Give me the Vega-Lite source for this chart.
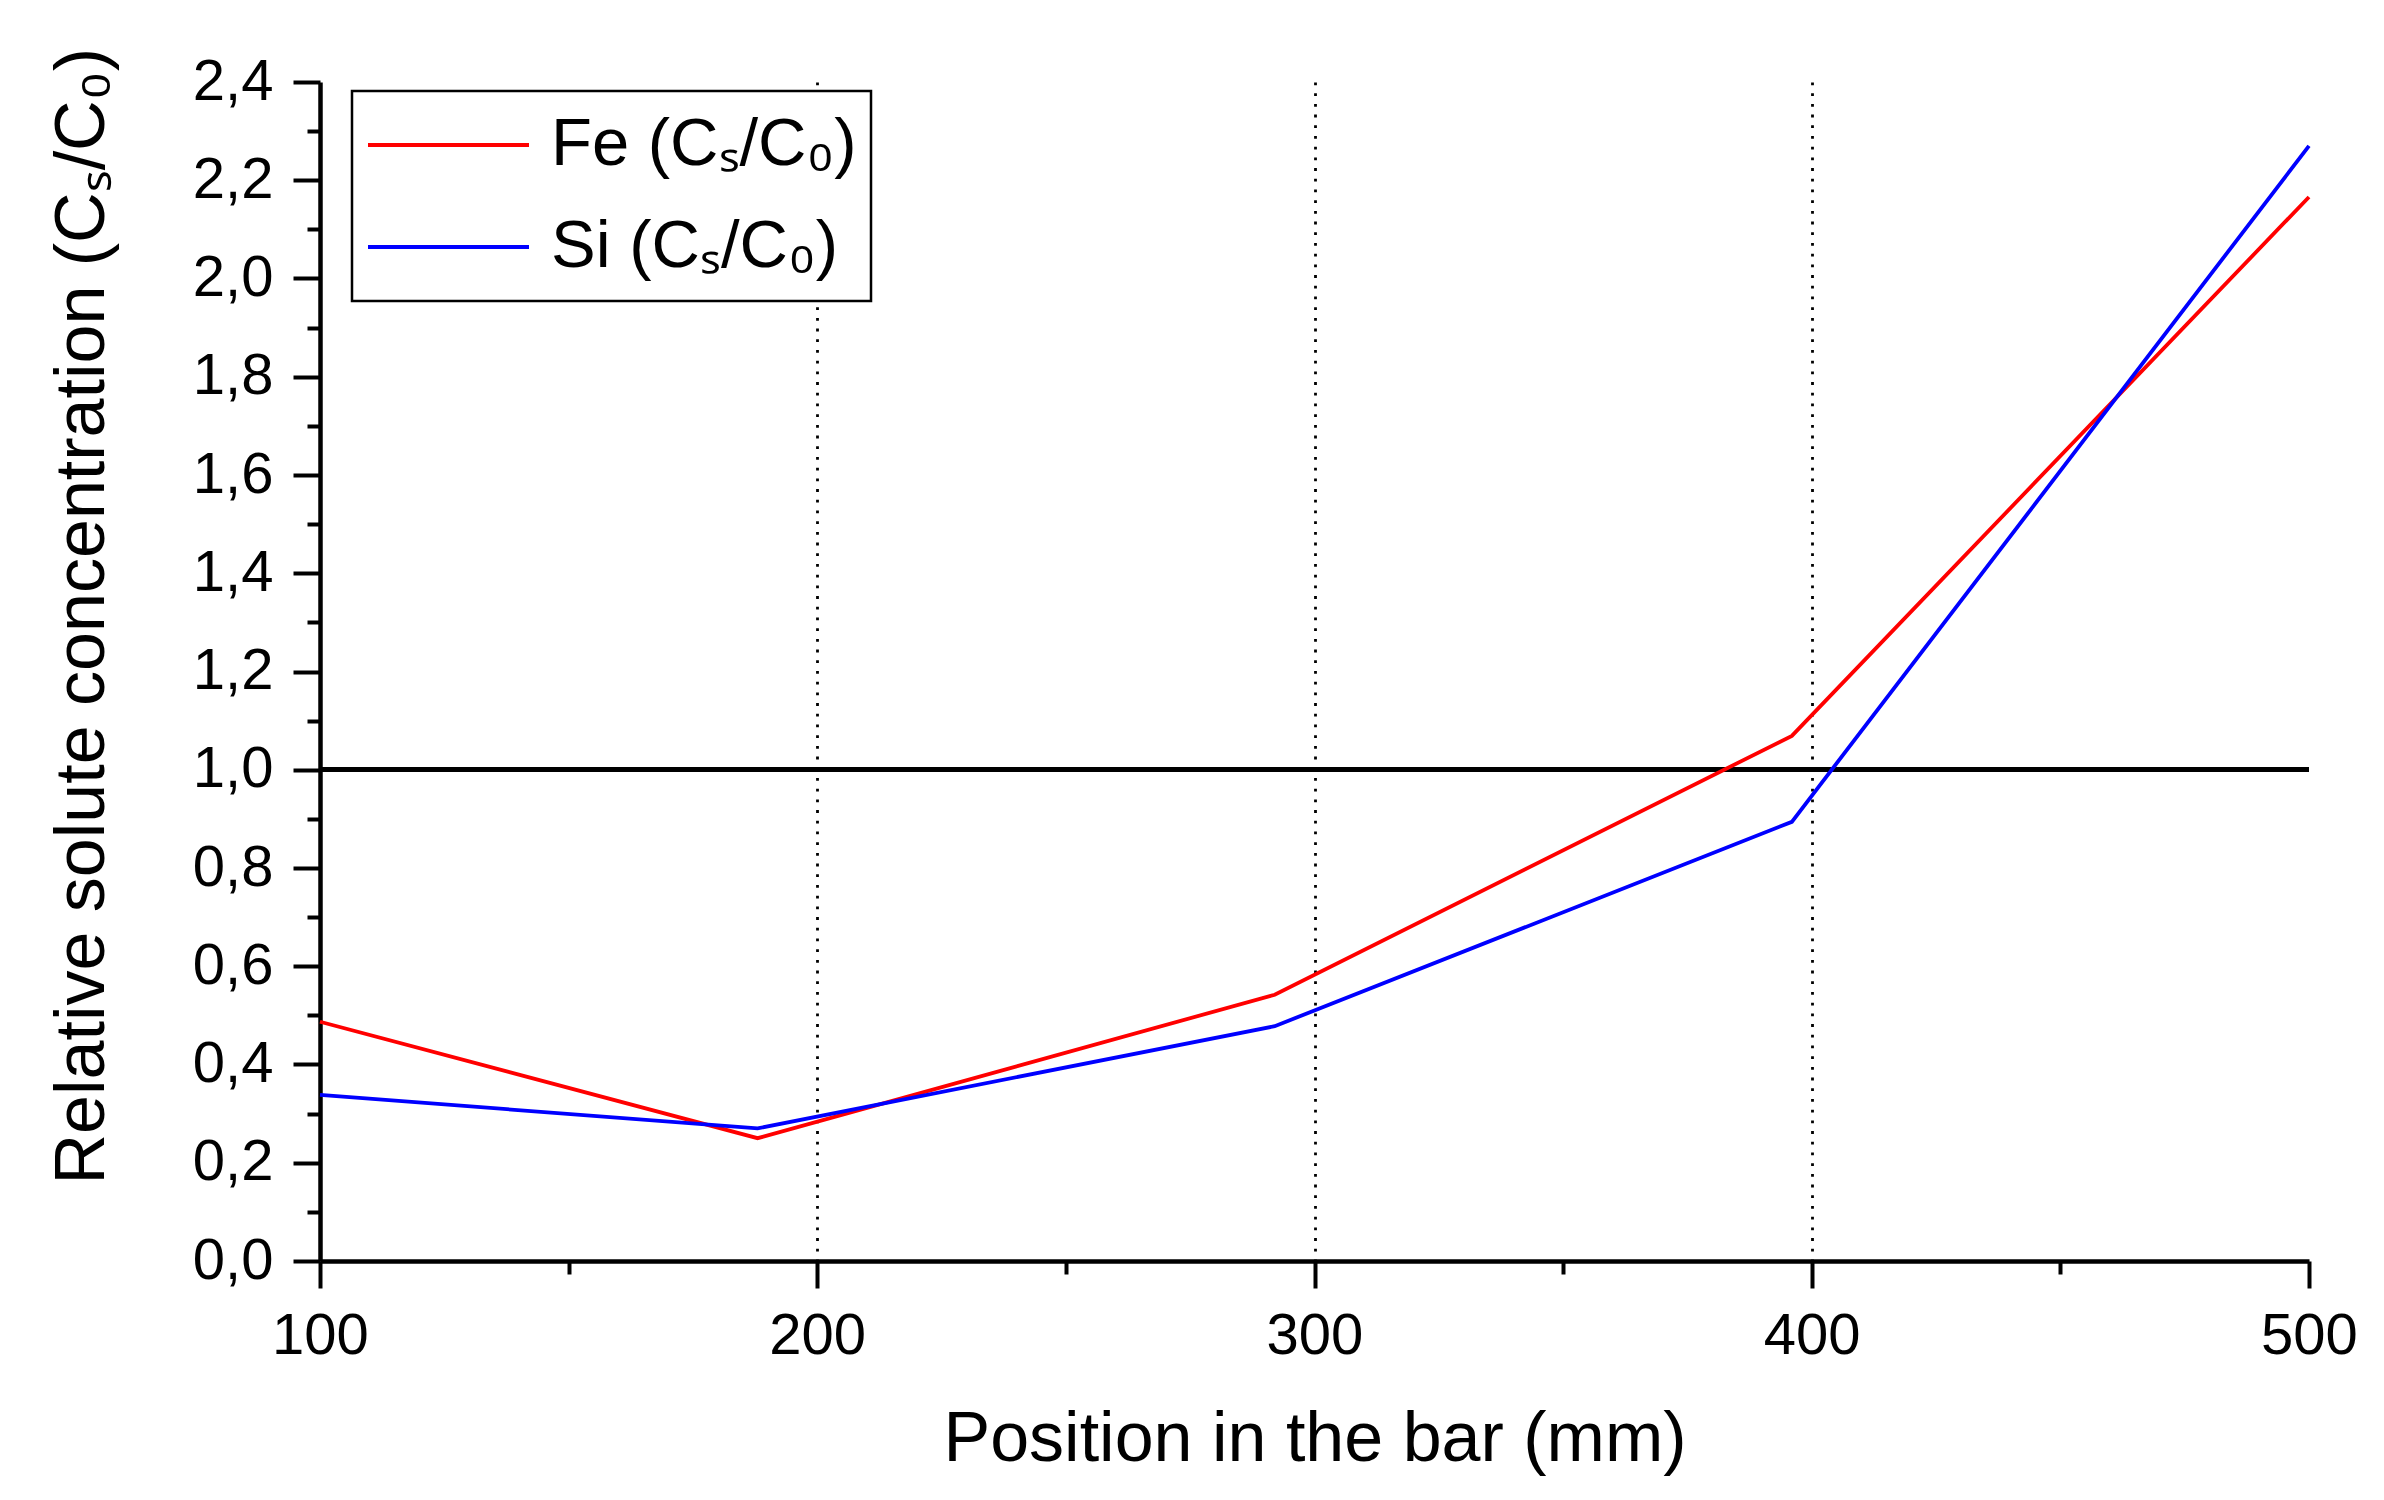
{
  "$schema": "https://vega.github.io/schema/vega-lite/v6.json",
  "description": "Relative solute concentration of Fe and Si along the bar.",
  "width": 1989,
  "height": 1179,
  "autosize": {"type": "none"},
  "padding": {"left": 320, "top": 82, "right": 75, "bottom": 239},
  "background": "white",
  "config": {
    "view": {"stroke": null},
    "font": "Liberation Sans",
    "legend": {"strokeWidth": 2.5},
    "axis": {
      "domainColor": "black",
      "tickColor": "black",
      "labelColor": "black",
      "titleColor": "black",
      "labelFont": "Liberation Sans",
      "titleFont": "Liberation Sans",
      "titleFontWeight": "normal",
      "labelFlush": false,
      "grid": false
    }
  },
  "data": {
    "values": [
      {"pos": 100, "val": 0.487, "series": "Fe (Cₛ/C₀)"},
      {"pos": 188, "val": 0.250, "series": "Fe (Cₛ/C₀)"},
      {"pos": 292, "val": 0.542, "series": "Fe (Cₛ/C₀)"},
      {"pos": 396, "val": 1.069, "series": "Fe (Cₛ/C₀)"},
      {"pos": 500, "val": 2.166, "series": "Fe (Cₛ/C₀)"},
      {"pos": 100, "val": 0.338, "series": "Si (Cₛ/C₀)"},
      {"pos": 188, "val": 0.270, "series": "Si (Cₛ/C₀)"},
      {"pos": 292, "val": 0.478, "series": "Si (Cₛ/C₀)"},
      {"pos": 396, "val": 0.894, "series": "Si (Cₛ/C₀)"},
      {"pos": 500, "val": 2.270, "series": "Si (Cₛ/C₀)"}
    ]
  },
  "layer": [
    {
      "mark": {"type": "point", "opacity": 0},
      "encoding": {
        "x": {
          "field": "pos", "type": "quantitative",
          "scale": {"domain": [100, 500], "nice": false, "zero": false},
          "axis": {
            "orient": "bottom", "values": [200, 300, 400], "title": null,
            "labels": false, "ticks": false, "domain": false,
            "grid": true, "gridColor": "black", "gridWidth": 2.8,
            "gridDash": [2.8, 7.9], "gridOpacity": 1
          }
        },
        "y": {
          "field": "val", "type": "quantitative",
          "scale": {"domain": [0, 2.4], "nice": false},
          "axis": null
        }
      }
    },
    {
      "mark": {"type": "point", "opacity": 0},
      "encoding": {
        "x": {
          "field": "pos", "type": "quantitative",
          "scale": {"domain": [100, 500], "nice": false, "zero": false},
          "axis": {
            "orient": "bottom", "values": [150, 250, 350, 450], "title": null,
            "labels": false, "domain": false, "tickSize": 13, "tickWidth": 4
          }
        },
        "y": {
          "field": "val", "type": "quantitative",
          "scale": {"domain": [0, 2.4], "nice": false},
          "axis": {
            "orient": "left", "values": [0.1, 0.3, 0.5, 0.7, 0.9, 1.1, 1.3, 1.5, 1.7, 1.9, 2.1, 2.3],
            "title": null, "labels": false, "domain": false, "tickSize": 13, "tickWidth": 4
          }
        }
      }
    },
    {
      "mark": {"type": "rule", "color": "black", "strokeWidth": 4.5},
      "encoding": {
        "y": {"datum": 1, "type": "quantitative", "scale": {"domain": [0, 2.4], "nice": false}, "axis": null}
      }
    },
    {
      "mark": {"type": "line", "strokeWidth": 3.8},
      "encoding": {
        "x": {
          "field": "pos", "type": "quantitative",
          "scale": {"domain": [100, 500], "nice": false, "zero": false},
          "axis": {
            "orient": "bottom", "values": [100, 200, 300, 400, 500],
            "title": "Position in the bar (mm)",
            "domainWidth": 4.5, "tickSize": 27, "tickWidth": 4,
            "labelFontSize": 58, "labelBaseline": "alphabetic", "labelPadding": 65,
            "titleFontSize": 70, "titleBaseline": "alphabetic", "titleY": 199
          }
        },
        "y": {
          "field": "val", "type": "quantitative",
          "scale": {"domain": [0, 2.4], "nice": false},
          "axis": {
            "orient": "left", "values": [0, 0.2, 0.4, 0.6, 0.8, 1, 1.2, 1.4, 1.6, 1.8, 2, 2.2, 2.4],
            "labelExpr": "replace(format(datum.value, '.1f'), '.', ',')",
            "title": "Relative solute concentration (Cₛ/C₀)",
            "domainWidth": 4.5, "tickSize": 27, "tickWidth": 4,
            "labelFontSize": 58, "labelPadding": 20,
            "titleFontSize": 70, "titleAngle": 270, "titleBaseline": "alphabetic",
            "titleAlign": "left", "titleX": -217, "titleY": 1102
          }
        },
        "color": {
          "field": "series", "type": "nominal",
          "scale": {"domain": ["Fe (Cₛ/C₀)", "Si (Cₛ/C₀)"], "range": ["#ff0000", "#0000ff"]},
          "legend": {
            "orient": "none", "legendX": 32, "legendY": 9, "title": null,
            "fillColor": "white", "strokeColor": "black",
            "padding": 14, "clipHeight": 80, "rowPadding": 22,
            "symbolType": "stroke", "symbolSize": 25921, "symbolStrokeWidth": 3.8,
            "labelFontSize": 67, "labelOffset": 20, "labelLimit": 0,
            "labelColor": "black", "labelFont": "Liberation Sans"
          }
        }
      }
    }
  ],
  "resolve": {"axis": {"x": "independent", "y": "independent"}}
}
